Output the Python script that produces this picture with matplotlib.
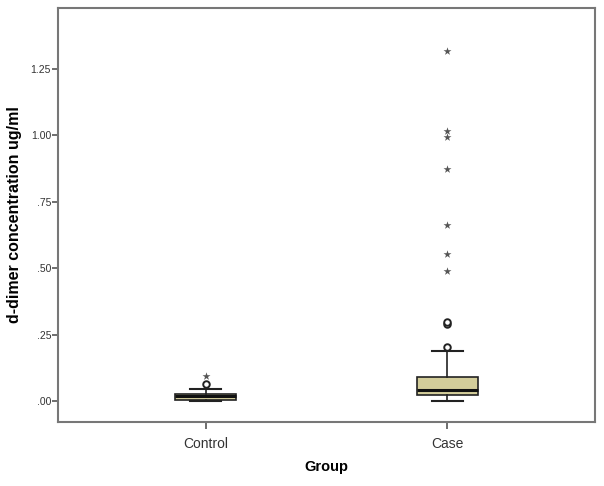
import numpy as np
import matplotlib.pyplot as plt

# box statistics
groups = ['Control', 'Case']
q1 = [0.005, 0.024]
med = [0.017, 0.041]
q3 = [0.027, 0.089]
whislo = [0.0, 0.0]
whishi = [0.046, 0.190]

# outliers (circles) and extremes (stars)
control_out = [0.063]
control_ext = [0.094]
case_out = [0.203, 0.290, 0.297]
case_ext = [0.489, 0.553, 0.663, 0.873, 0.994, 1.017, 1.318]

yticks = [0.0, 0.25, 0.5, 0.75, 1.0, 1.25]
ytick_labels = ['.00', '.25', '.50', '.75', '1.00', '1.25']

plt.rcParams['font.family'] = ['Liberation Sans', 'DejaVu Sans']

fig = plt.figure(figsize=(6.04, 4.86), dpi=100)
ax = fig.add_axes([0.096, 0.1317, 0.889, 0.852])

stats = []
for i, g in enumerate(groups):
    stats.append({'label': g, 'q1': q1[i], 'med': med[i], 'q3': q3[i],
                  'whislo': whislo[i], 'whishi': whishi[i], 'fliers': []})

ax.bxp(stats, positions=[1, 2], widths=0.25, patch_artist=True, showfliers=False,
       boxprops=dict(facecolor='#d3cd9a', edgecolor='#222222', linewidth=1.2),
       medianprops=dict(color='#111111', linewidth=2.2),
       whiskerprops=dict(color='#222222', linewidth=1.2),
       capprops=dict(color='#222222', linewidth=1.5))

for pos, outs, exts in [(1, control_out, control_ext), (2, case_out, case_ext)]:
    ax.scatter([pos] * len(outs), outs, marker='o', s=22, facecolors='white',
               edgecolors='#222222', linewidths=1.4, zorder=3)
    ax.scatter([pos] * len(exts), exts, marker='*', s=36, color='#555555',
               linewidths=0, zorder=3)

ax.set_xlim(0.39, 2.61)
ax.set_ylim(-0.079, 1.48)
ax.set_yticks(yticks)
ax.set_yticklabels(ytick_labels, fontsize=7.5, color='#333333')
ax.set_xticks([1, 2])
ax.set_xticklabels(groups, fontsize=10, color='#333333')

for s in ax.spines.values():
    s.set_color('#777777')
    s.set_linewidth(1.5)
ax.tick_params(axis='y', length=4, width=1.2, color='#555555', pad=1)
ax.tick_params(axis='x', length=5, width=1.2, color='#555555', pad=6)

ax.set_ylabel('d-dimer concentration ug/ml', fontsize=11.5, fontweight='bold')
ax.yaxis.set_label_coords(-0.067, 0.5)
ax.set_xlabel('Group', fontsize=10.5, fontweight='bold')
ax.xaxis.set_label_coords(0.5, -0.092)

fig.savefig('out.png', dpi=100)
